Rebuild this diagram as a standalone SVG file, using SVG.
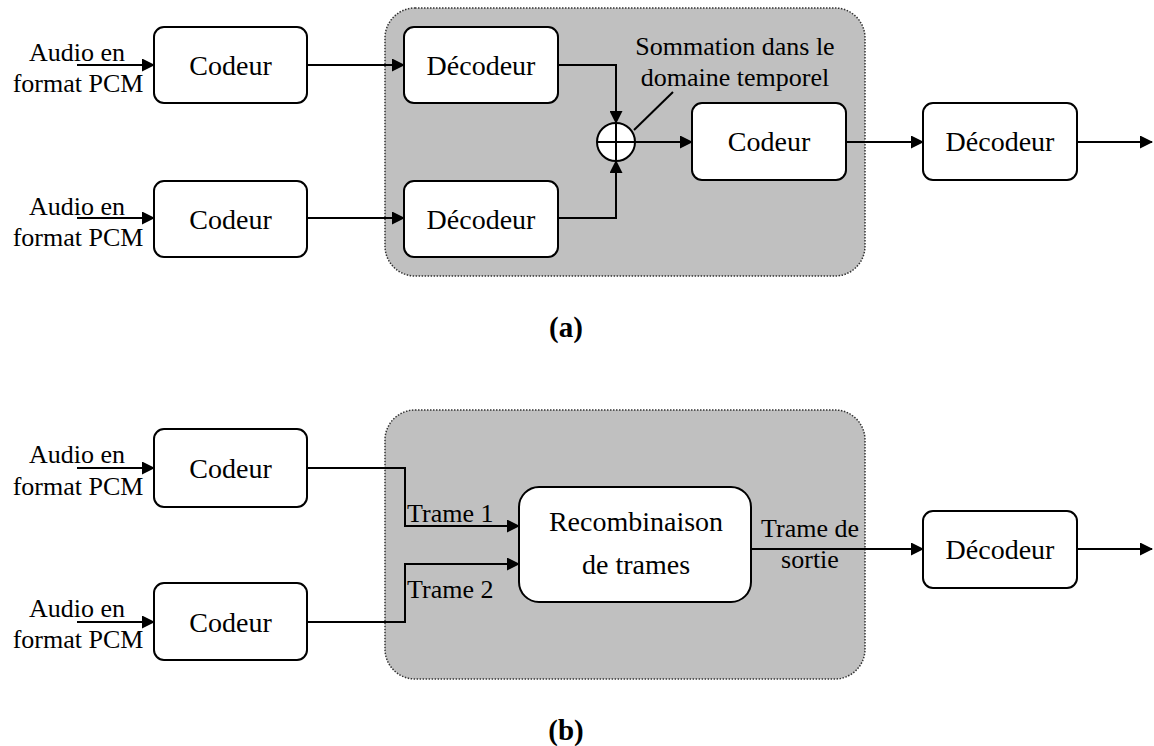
<svg xmlns="http://www.w3.org/2000/svg" width="1154" height="746" viewBox="0 0 1154 746">
<style>
.box{fill:#fff;stroke:#000;stroke-width:2}
.grp{fill:#c0c0c0;stroke:#333;stroke-width:1.5;stroke-dasharray:1.5 1.5}
.t{font-family:"Liberation Serif","Times New Roman",serif;font-size:28px;fill:#000;text-anchor:middle}
.l{font-family:"Liberation Serif","Times New Roman",serif;font-size:26px;fill:#000}
.c{text-anchor:middle}
.cap{font-family:"Liberation Serif","Times New Roman",serif;font-size:29px;font-weight:bold;text-anchor:middle}
.w{fill:none;stroke:#000;stroke-width:2}
</style>
<defs>
<marker id="ah" markerWidth="13" markerHeight="13" refX="12" refY="6.5" orient="auto" markerUnits="userSpaceOnUse">
<path d="M0,0 L13,6.5 L0,13 Z" fill="#000"/>
</marker>
</defs>
<rect class="grp" x="385" y="8" width="480" height="268" rx="30"/>
<rect class="grp" x="385" y="410" width="480" height="269" rx="30"/>
<g id="a-codeur1"><rect class="box" x="154" y="27" width="153" height="76" rx="10"/><text class="t" x="230.5" y="75">Codeur</text></g>
<g id="a-codeur2"><rect class="box" x="154" y="181" width="153" height="76" rx="10"/><text class="t" x="230.5" y="229">Codeur</text></g>
<g id="a-dec1"><rect class="box" x="404" y="27" width="154" height="76" rx="10"/><text class="t" x="481" y="75">Décodeur</text></g>
<g id="a-dec2"><rect class="box" x="404" y="181" width="154" height="76" rx="10"/><text class="t" x="481" y="229">Décodeur</text></g>
<g id="a-sum"><circle cx="616" cy="142" r="19" fill="#fff" stroke="#000" stroke-width="2"/><path class="w" d="M597,142 H635 M616,123 V161"/></g>
<g id="a-codeur3"><rect class="box" x="692" y="103" width="154" height="77" rx="10"/><text class="t" x="769" y="151">Codeur</text></g>
<g id="a-dec3"><rect class="box" x="923" y="103" width="154" height="77" rx="10"/><text class="t" x="1000" y="151">Décodeur</text></g>
<g id="b-codeur1"><rect class="box" x="154" y="429" width="153" height="78" rx="10"/><text class="t" x="230.5" y="478">Codeur</text></g>
<g id="b-codeur2"><rect class="box" x="154" y="583" width="153" height="77" rx="10"/><text class="t" x="230.5" y="632">Codeur</text></g>
<g id="b-recomb"><rect class="box" x="519" y="487" width="232" height="115" rx="20"/><text class="t" x="636" y="531">Recombinaison</text><text class="t" x="636" y="574">de trames</text></g>
<g id="b-dec"><rect class="box" x="923" y="511" width="154" height="77" rx="10"/><text class="t" x="1000" y="559">Décodeur</text></g>
<g id="connectors">
<path class="w" d="M77,65 H154" marker-end="url(#ah)"/>
<path class="w" d="M77,218 H154" marker-end="url(#ah)"/>
<path class="w" d="M307,65 H404" marker-end="url(#ah)"/>
<path class="w" d="M307,218 H404" marker-end="url(#ah)"/>
<path class="w" d="M558,65 H616 V123" marker-end="url(#ah)"/>
<path class="w" d="M558,218 H616 V161" marker-end="url(#ah)"/>
<path class="w" d="M635,142 H692" marker-end="url(#ah)"/>
<path class="w" d="M846,142 H923" marker-end="url(#ah)"/>
<path class="w" d="M1077,142 H1152" marker-end="url(#ah)"/>
<path class="w" d="M634,130 L673,92"/>
<path class="w" d="M77,468 H154" marker-end="url(#ah)"/>
<path class="w" d="M77,622 H154" marker-end="url(#ah)"/>
<path class="w" d="M307,468 H405 V526 H519" marker-end="url(#ah)"/>
<path class="w" d="M307,622 H405 V564 H519" marker-end="url(#ah)"/>
<path class="w" d="M751,549 H923" marker-end="url(#ah)"/>
<path class="w" d="M1077,549 H1152" marker-end="url(#ah)"/>
</g>
<g id="labels">
<text class="l c" x="77" y="61">Audio en</text><text class="l c" x="78" y="92">format PCM</text>
<text class="l c" x="77" y="215">Audio en</text><text class="l c" x="78" y="246">format PCM</text>
<text class="l c" x="77" y="463">Audio en</text><text class="l c" x="78" y="495">format PCM</text>
<text class="l c" x="77" y="617">Audio en</text><text class="l c" x="78" y="648">format PCM</text>
<text class="l c" x="735" y="55">Sommation dans le</text>
<text class="l c" x="735" y="86">domaine temporel</text>
<text class="l" x="407" y="522">Trame 1</text>
<text class="l" x="407" y="598">Trame 2</text>
<text class="l c" x="810" y="537">Trame de</text>
<text class="l c" x="810" y="568">sortie</text>
<text class="cap" x="566" y="337">(a)</text>
<text class="cap" x="566" y="740">(b)</text>
</g>
</svg>
